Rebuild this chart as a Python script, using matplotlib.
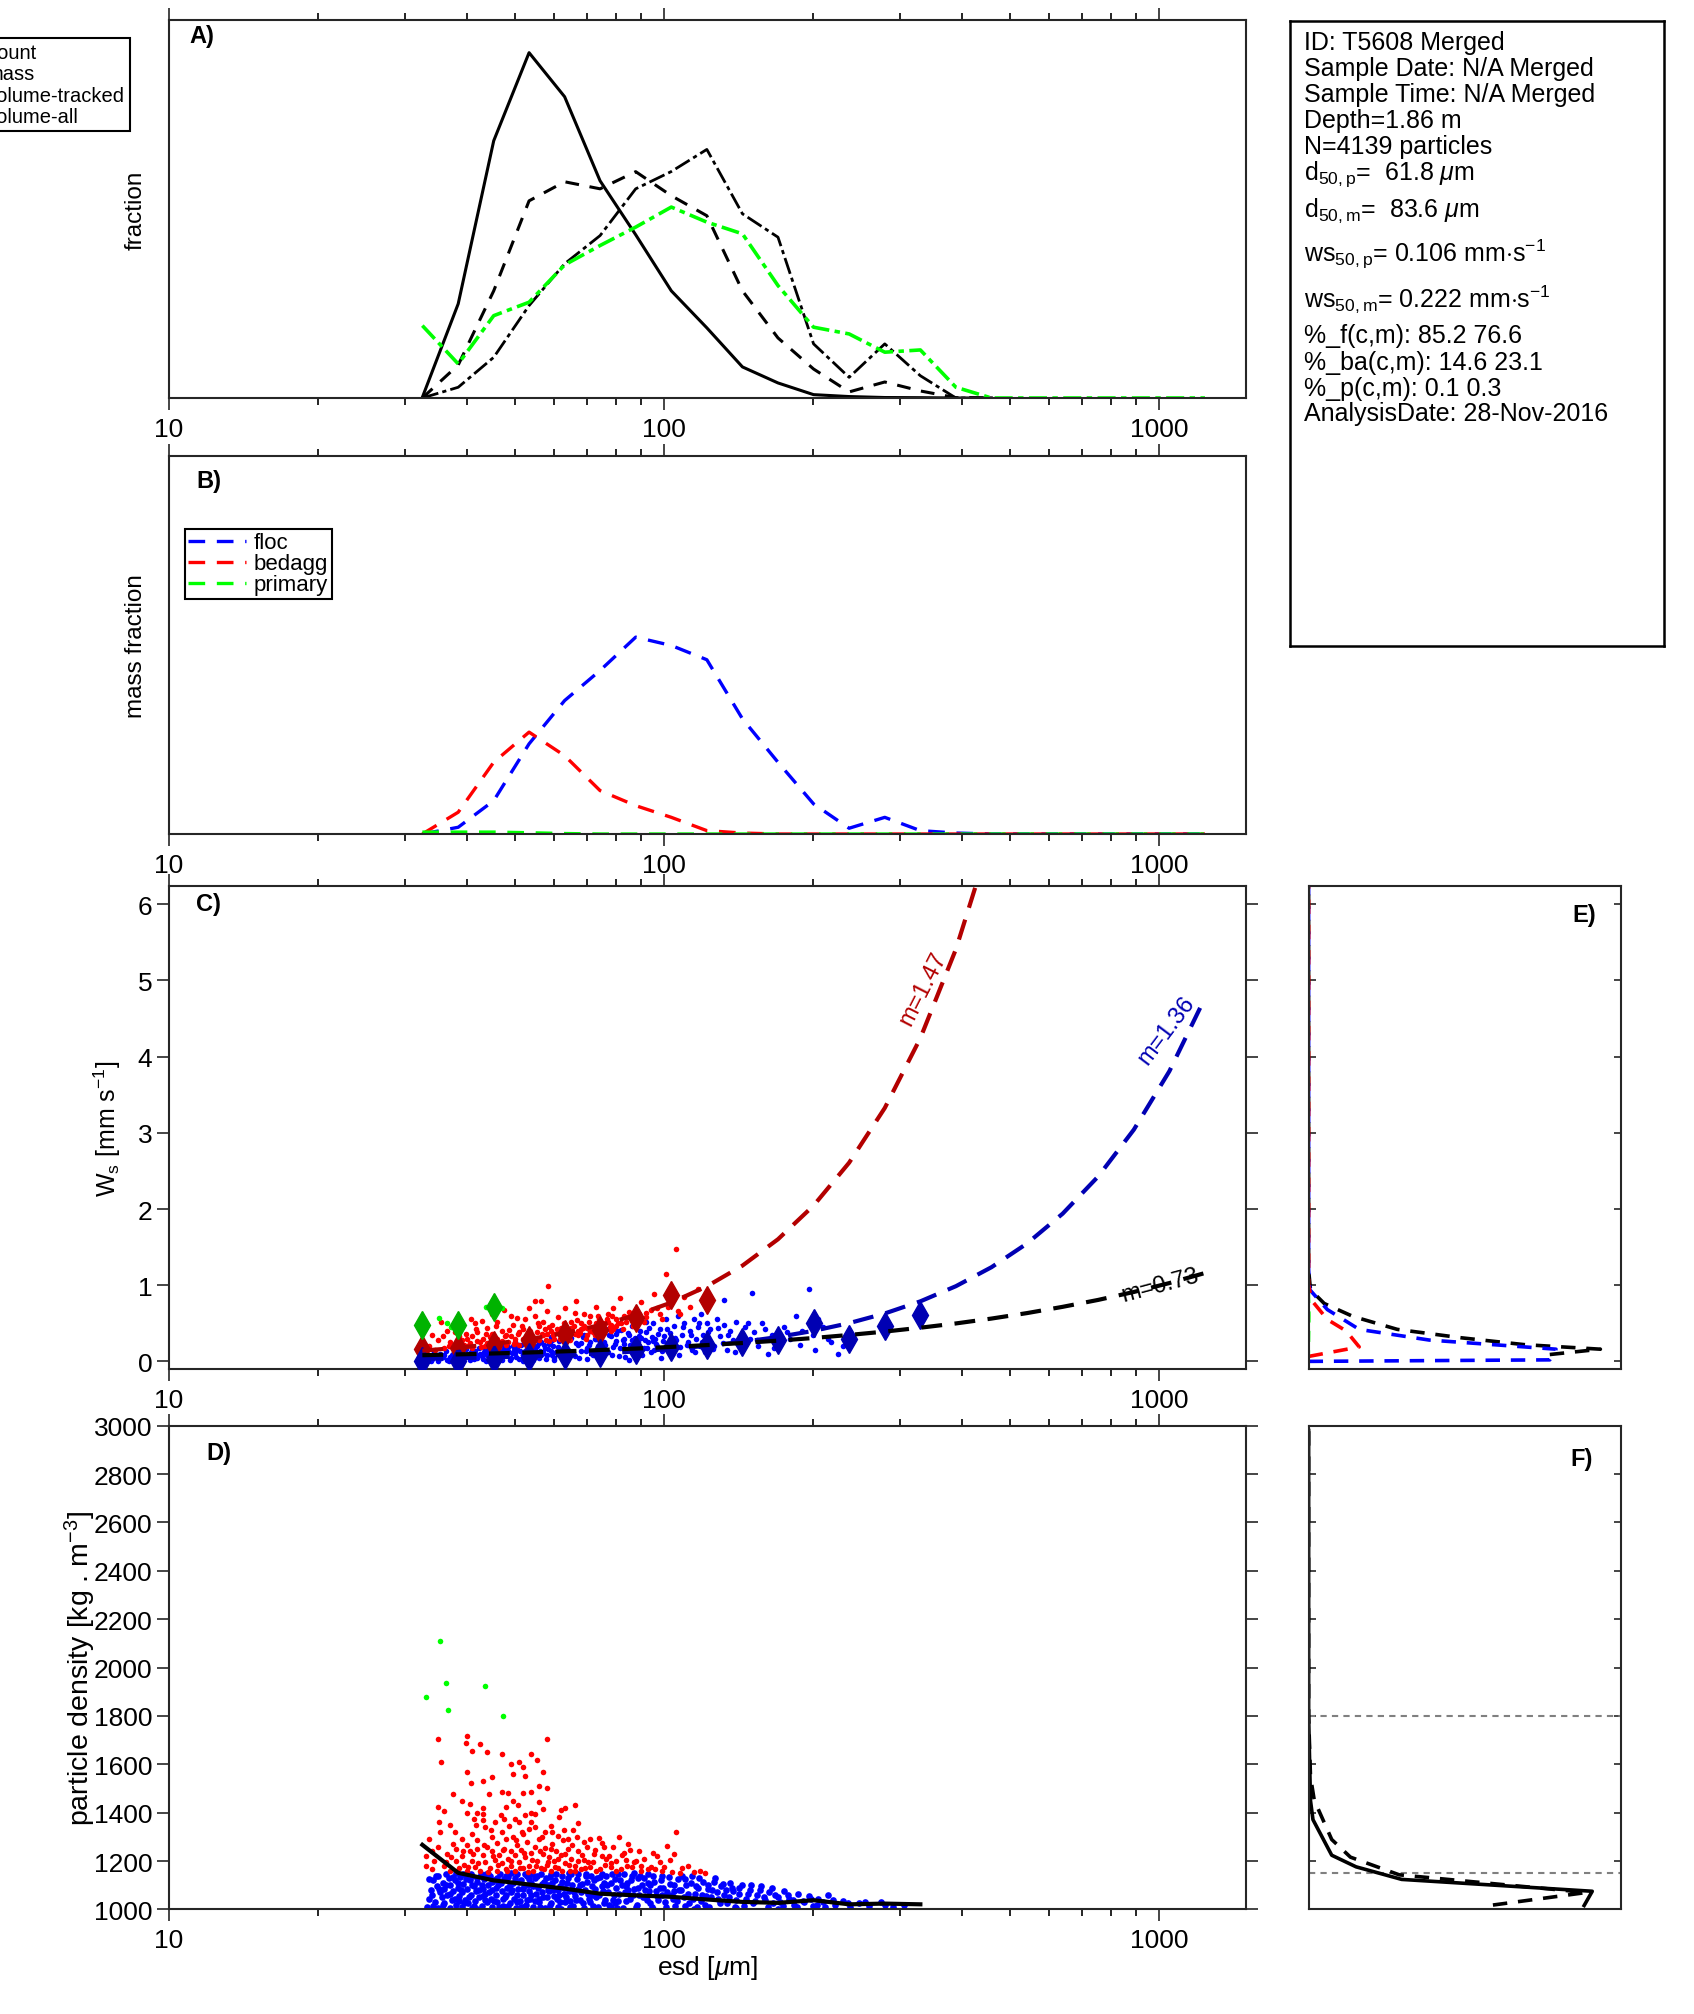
import numpy as np
import matplotlib
matplotlib.use("Agg")
import matplotlib.pyplot as plt
from matplotlib.ticker import LogLocator, NullFormatter

plt.rcParams['font.family'] = ['Liberation Sans', 'DejaVu Sans']
plt.rcParams['mathtext.fontset'] = 'custom'
plt.rcParams['mathtext.rm'] = 'Liberation Sans'
plt.rcParams['mathtext.it'] = 'Liberation Sans:italic'
plt.rcParams['mathtext.bf'] = 'Liberation Sans:bold'

AXC = '#262626'
DRED = (0.7, 0, 0)
DBLUE = (0, 0, 0.7)
DGREEN = (0, 0.7, 0)

# size bin centres [um]
esd_bins = [32.5, 38.4, 45.3, 53.4, 63.0, 74.3, 87.7, 103.5, 122.1, 144.1, 170.0, 200.6,
            236.7, 279.4, 329.7, 389.0, 459.0, 541.7, 639.2, 754.2, 890.0, 1050.2, 1239.2]

# A) size distributions
frac_count = [0.0004, 0.0588, 0.1606, 0.2156, 0.1881, 0.1356, 0.1019, 0.0669, 0.0438, 0.0194,
              0.0094, 0.0021, 0.0009, 0.0003, 0.0002, 0.0, 0.0]
frac_mass = [0.0, 0.0206, 0.0669, 0.1231, 0.135, 0.1306, 0.1413, 0.1263, 0.1138, 0.0669,
             0.0375, 0.0181, 0.0038, 0.01, 0.0044, 0.0002, 0.0]
frac_vol_tracked = [0.0, 0.0067, 0.0254, 0.0577, 0.0838, 0.1014, 0.1306, 0.1414, 0.1552, 0.115,
                    0.1004, 0.0338, 0.0129, 0.0338, 0.0139, 0.0, 0.0]
frac_vol_all = [0.0452, 0.0213, 0.0514, 0.0598, 0.0831, 0.0952, 0.1067, 0.1192, 0.1098, 0.1025,
                0.0702, 0.0442, 0.04, 0.0286, 0.03, 0.0067, 0, 0, 0, 0, 0, 0, 0]

# B) mass fraction by class
mf_floc = [0.0, 0.0042, 0.0208, 0.0563, 0.0833, 0.1021, 0.1229, 0.1177, 0.1088, 0.0719, 0.0448,
           0.0188, 0.0036, 0.0104, 0.0021, 0.0006, 0, 0, 0, 0, 0, 0, 0]
mf_bedagg = [0.0, 0.0136, 0.0448, 0.0636, 0.0489, 0.0271, 0.0177, 0.0104, 0.0021, 0.0006, 0,
             0, 0, 0, 0, 0, 0, 0, 0, 0, 0, 0, 0]
mf_primary = [0.0012, 0.0012, 0.0012, 0.0008, 0.0003, 0, 0, 0, 0, 0, 0, 0, 0, 0, 0, 0, 0, 0,
              0, 0, 0, 0, 0]

# C) settling velocity: bin medians and fitted curves
ws_med_bedagg = [0.16, 0.18, 0.21, 0.28, 0.36, 0.41, 0.57, 0.87, 0.80]
ws_med_floc = [0.0, 0.01, 0.03, 0.06, 0.09, 0.11, 0.15, 0.19, 0.21, 0.25, 0.28, 0.50, 0.29, 0.46, 0.61]
ws_med_primary = [0.48, 0.48, 0.72]
ws_fit_bedagg = [0.141, 0.179, 0.229, 0.292, 0.372, 0.475, 0.606, 0.772, 0.985, 1.257, 1.603,
                 2.045, 2.608, 3.326, 4.243, 5.41, 6.90]
ws_fit_floc = [0.034, 0.042, 0.053, 0.066, 0.083, 0.104, 0.130, 0.163, 0.204, 0.256, 0.320, 0.401,
               0.502, 0.629, 0.788, 0.987, 1.236, 1.548, 1.939, 2.428, 3.041, 3.809, 4.77]
ws_fit_all = [0.081, 0.092, 0.104, 0.117, 0.132, 0.149, 0.168, 0.190, 0.214, 0.241, 0.272, 0.307,
              0.347, 0.391, 0.442, 0.498, 0.562, 0.634, 0.716, 0.807, 0.911, 1.028, 1.16]

# particles (esd [um], ws [mm/s])
ws_bedagg = [(33, 0.12), (33.5, 0.2), (34, 0.35), (34.5, 0.15), (35, 0.28), (35.5, 0.52), (36, 0.18),
             (36.5, 0.4), (37, 0.25), (37.6, 0.46), (38, 0.14), (38.5, 0.33), (39, 0.45), (39.5, 0.22),
             (40, 0.3), (40.8, 0.56), (41, 0.17), (41.5, 0.5), (42, 0.38), (42.5, 0.25), (42.8, 0.53),
             (43.5, 0.2), (44, 0.44), (44.5, 0.32), (45, 0.62), (45.5, 0.28), (46, 0.52), (46.5, 0.19),
             (47, 0.4), (47.5, 0.68), (48, 0.35), (48.5, 0.26), (49, 0.6), (49.5, 0.48), (50, 0.3),
             (50.5, 0.57), (51, 0.21), (52, 0.42), (52.5, 0.55), (53, 0.33), (53.5, 0.7), (54, 0.25),
             (54.8, 0.79), (55, 0.6), (55.5, 0.38), (56.5, 0.79), (56, 0.46), (57, 0.52), (57.5, 0.42),
             (58, 0.66), (58.4, 0.99), (58.5, 0.27), (59.5, 0.48), (60, 0.36), (61, 0.58), (62, 0.44),
             (63, 0.7), (64, 0.32), (65, 0.52), (66.3, 0.79), (66, 0.63), (67, 0.4), (68, 0.5), (69, 0.62),
             (70, 0.35), (71, 0.6), (72, 0.45), (73, 0.72), (74, 0.55), (75, 0.4), (77, 0.62), (78, 0.48),
             (79, 0.7), (80, 0.56), (81.6, 0.83), (83, 0.6), (85, 0.65), (88, 0.5), (90, 0.78), (92, 0.58),
             (95.5, 0.89), (97, 0.7), (99, 0.55), (101, 1.15), (103, 0.8), (105.7, 1.47), (107, 0.66),
             (110, 0.85), (113, 0.72), (117, 0.95), (120, 0.8),
             (38, 0.22), (40, 0.2), (42, 0.27), (44, 0.24), (46, 0.3), (48, 0.22), (50, 0.26), (52, 0.3),
             (54, 0.34), (56, 0.28), (58, 0.36), (60, 0.3), (62, 0.34), (64, 0.4), (66, 0.36), (68, 0.42),
             (70, 0.44), (72, 0.38), (74, 0.46), (76, 0.5), (78, 0.4), (80, 0.46), (84, 0.52), (88, 0.6),
             (39, 0.28), (41, 0.33), (43, 0.3), (45, 0.36), (47, 0.27), (49, 0.33), (51, 0.38), (53, 0.27),
             (55, 0.3), (57, 0.34), (59, 0.4), (61, 0.38), (63, 0.3), (65, 0.44), (67, 0.34), (69, 0.47),
             (71, 0.4), (73, 0.5), (75, 0.45), (77, 0.52), (79, 0.42), (82, 0.5), (86, 0.56), (92, 0.64),
             (35.8, 0.33), (36.8, 0.2), (37.8, 0.38), (38.8, 0.17), (39.8, 0.36), (40.6, 0.24), (41.7, 0.42),
             (42.7, 0.19), (43.7, 0.36), (44.7, 0.27), (45.7, 0.46), (46.7, 0.24), (47.7, 0.33), (48.7, 0.41),
             (49.7, 0.23), (50.7, 0.36), (51.7, 0.46), (52.7, 0.25), (53.7, 0.4), (54.7, 0.31), (55.7, 0.5),
             (56.7, 0.36), (57.7, 0.28), (58.7, 0.45), (59.7, 0.34), (60.7, 0.42), (61.7, 0.3), (62.7, 0.5),
             (63.7, 0.39), (64.7, 0.28), (65.7, 0.46), (66.7, 0.54), (67.7, 0.37), (68.7, 0.44), (69.7, 0.3),
             (70.7, 0.52), (71.7, 0.42), (72.7, 0.35), (73.7, 0.6), (74.7, 0.48), (75.7, 0.37), (76.7, 0.56),
             (77.7, 0.45), (78.7, 0.6), (80.7, 0.5), (82.7, 0.42), (84.7, 0.58), (86.7, 0.47), (89, 0.62),
             (91, 0.52), (94, 0.68), (98, 0.62), (102, 0.72), (108, 0.62)]
ws_floc = [(33, 0.02), (33.5, 0.05), (34, 0.03), (34.5, 0.07), (35, 0.01), (35.5, 0.04), (36, 0.08),
           (36.5, 0.02), (37, 0.06), (37.5, 0.1), (38, 0.03), (38.5, 0.07), (39, 0.12), (39.5, 0.04),
           (40, 0.09), (40.5, 0.02), (41, 0.06), (41.5, 0.13), (42, 0.05), (42.5, 0.1), (43, 0.03),
           (43.5, 0.15), (44, 0.08), (44.5, 0.11), (45, 0.04), (45.5, 0.16), (46, 0.07), (46.5, 0.12),
           (47, 0.02), (47.5, 0.18), (48, 0.09), (48.5, 0.14), (49, 0.05), (49.5, 0.2), (50, 0.11),
           (50.5, 0.16), (51, 0.03), (51.5, 0.22), (52, 0.08), (52.5, 0.13), (53, 0.18), (53.5, 0.06),
           (54, 0.24), (54.5, 0.1), (55, 0.15), (55.5, 0.2), (56, 0.04), (56.5, 0.26), (57, 0.12),
           (57.5, 0.17), (58, 0.08), (58.5, 0.23), (59, 0.14), (59.5, 0.28), (60, 0.05),
           (61, 0.19), (62, 0.1), (63, 0.25), (64, 0.15), (65, 0.31), (66, 0.07), (67, 0.21), (68, 0.13),
           (69, 0.34), (70, 0.18), (71, 0.26), (72, 0.09), (73, 0.3), (74, 0.16), (75, 0.38), (76, 0.22),
           (77, 0.12), (78, 0.33), (79, 0.19), (80, 0.27), (81, 0.07), (82, 0.41), (83, 0.23), (84, 0.15),
           (85, 0.35), (86, 0.28), (87, 0.1), (88, 0.45), (89, 0.2), (90, 0.31), (91, 0.17), (92, 0.38),
           (93, 0.25), (94, 0.12), (95, 0.5), (96, 0.29), (97, 0.2), (98, 0.42), (99, 0.14), (100, 0.33),
           (101, 0.55), (102, 0.24), (103, 0.37), (104, 0.1), (105, 0.46), (106, 0.28), (107, 0.6),
           (108, 0.19), (109, 0.35), (110, 0.5), (112, 0.25), (113, 0.4), (114, 0.15), (115, 0.55),
           (116, 0.3), (117, 0.45), (118, 0.2), (119, 0.62), (120, 0.35), (121, 0.12), (122, 0.5),
           (123, 0.27), (124, 0.42), (126, 0.2), (128, 0.55), (130, 0.33), (132, 0.8), (132, 0.48),
           (134, 0.15), (136, 0.4), (138, 0.28), (140, 0.52), (143, 0.22), (146, 0.45), (149, 0.3),
           (150.8, 0.9), (152, 0.38), (155, 0.2), (158, 0.5), (162, 0.1), (165, 0.35), (170, 0.25),
           (175, 0.45), (180, 0.3), (185, 0.6), (190, 0.4), (196, 0.95), (196, 0.5), (200, 0.35),
           (205, 0.55), (210, 0.45), (215, 0.3), (225, 0.1), (230, 0.2),
           (38, 0.0), (45, 0.01), (52, 0.0), (60, 0.02), (70, 0.03), (85, 0.02),
           (41, 0.17), (44, 0.2), (47, 0.22), (50, 0.25), (53, 0.27), (56, 0.3), (59, 0.32), (62, 0.35),
           (65, 0.37), (68, 0.24), (71, 0.4), (74, 0.28), (77, 0.42), (80, 0.36), (83, 0.3), (86, 0.47),
           (89, 0.33), (92, 0.52), (95, 0.27),
           (33.3, 0.09), (33.8, 0.0), (34.3, 0.12), (34.8, 0.04), (35.3, 0.1), (35.8, 0.06), (36.3, 0.13),
           (36.8, 0.01), (37.3, 0.09), (37.8, 0.15), (38.3, 0.05), (38.8, 0.11), (39.3, 0.0), (39.8, 0.16),
           (40.3, 0.06), (40.8, 0.12), (41.3, 0.03), (41.8, 0.09), (42.3, 0.17), (42.8, 0.07), (43.3, 0.12),
           (43.8, 0.01), (44.3, 0.14), (44.8, 0.06), (45.3, 0.19), (45.8, 0.1), (46.3, 0.03), (46.8, 0.16),
           (47.3, 0.08), (47.8, 0.13), (48.3, 0.19), (48.8, 0.02), (49.3, 0.11), (49.8, 0.15), (50.3, 0.06),
           (50.8, 0.21), (51.3, 0.13), (51.8, 0.09), (52.3, 0.04), (52.8, 0.2), (53.3, 0.11), (53.8, 0.15),
           (54.3, 0.02), (54.8, 0.19), (55.3, 0.08), (55.8, 0.24), (56.3, 0.14), (56.8, 0.1), (57.3, 0.21),
           (57.8, 0.03), (58.3, 0.16), (58.8, 0.26), (59.3, 0.09), (59.8, 0.2), (60.5, 0.12), (61.5, 0.27),
           (62.5, 0.06), (63.5, 0.18), (64.5, 0.3), (65.5, 0.11), (66.5, 0.24), (67.5, 0.04), (68.5, 0.32),
           (69.5, 0.14), (70.5, 0.22), (71.5, 0.1), (72.5, 0.29), (73.5, 0.2), (74.5, 0.05), (75.5, 0.26),
           (76.5, 0.15), (77.5, 0.34), (78.5, 0.09), (79.5, 0.23), (80.5, 0.4), (81.5, 0.17), (82.5, 0.28),
           (83.5, 0.06), (84.5, 0.37), (85.5, 0.21), (86.5, 0.13), (87.5, 0.31), (88.5, 0.25), (89.5, 0.4),
           (90.5, 0.08), (91.5, 0.28), (92.5, 0.18), (93.5, 0.44), (94.5, 0.32), (95.5, 0.15), (96.5, 0.23),
           (97.5, 0.36), (98.5, 0.05), (99.5, 0.27), (101.5, 0.42), (103.5, 0.18), (105.5, 0.31),
           (107.5, 0.09), (109.5, 0.45), (111.5, 0.21), (113.5, 0.34), (115.5, 0.12), (117.5, 0.5),
           (119.5, 0.26), (122.5, 0.38), (125.5, 0.16), (128.5, 0.44), (131.5, 0.24), (135, 0.35),
           (139, 0.12), (144, 0.33), (148, 0.5), (154, 0.28), (160, 0.42), (167, 0.18), (177, 0.38),
           (188, 0.22), (202, 0.15), (218, 0.25)]
ws_primary = [(32.7, 0.47), (35.2, 0.57), (36.4, 0.51), (37.2, 0.45), (43.8, 0.72), (47, 0.7)]

# D) particle density
rho_med_all = [1267, 1151, 1120, 1103, 1086, 1065, 1058, 1052, 1041, 1031, 1027, 1038, 1021, 1024, 1021]
rho_bedagg = [(33, 1220), (34, 1240), (35, 1257), (33.5, 1290), (34.3, 1200), (33, 1180), (34, 1165),
              (35, 1704), (35.5, 1608), (35, 1422), (35.2, 1361), (35.3, 1319), (36, 1405), (37, 1349),
              (37.4, 1477), (39, 1447), (40, 1716), (39.8, 1690), (40, 1567), (40.5, 1436), (40, 1398),
              (40.8, 1521), (41, 1653), (41.3, 1374), (42, 1398), (42.5, 1682), (43, 1529), (43, 1418),
              (43, 1393), (43, 1371), (44, 1650), (44.3, 1476), (45, 1546), (45.5, 1363), (47, 1641),
              (47, 1484), (47.5, 1374), (48, 1422), (48.5, 1480), (49, 1600), (49.5, 1558), (49.5, 1450),
              (50, 1374), (50.8, 1433), (51, 1608), (51, 1363), (52, 1587), (52, 1480), (52.5, 1551),
              (52.5, 1392), (53.5, 1332), (54, 1641), (54, 1484), (54, 1398), (55, 1396), (55, 1339),
              (55.5, 1616), (56, 1510), (56, 1444), (57, 1567), (57, 1415), (57.5, 1319), (58, 1704),
              (58, 1500), (59.5, 1319), (61, 1305), (61.5, 1381), (62, 1412), (63, 1418), (64, 1291),
              (65.5, 1328), (66, 1432), (67, 1357), (69, 1280), (72.5, 1246), (74, 1294), (75, 1219),
              (75.5, 1257), (77.5, 1222), (81, 1298), (83, 1232), (84, 1204), (85.5, 1246), (88, 1201),
              (90, 1181), (93, 1167), (95, 1232), (100, 1177), (101.5, 1263), (104, 1155), (106, 1321),
              (108, 1152), (115, 1156), (121, 1152),
              (36, 1180), (36.5, 1230), (37, 1160), (37.5, 1270), (38, 1200), (38, 1250), (38.5, 1170),
              (39, 1290), (39, 1220), (39.5, 1185), (40, 1160), (40, 1265), (40.5, 1240), (41, 1200),
              (41, 1310), (41.5, 1175), (42, 1250), (42, 1285), (42.5, 1160), (43, 1225), (43.5, 1195),
              (43.5, 1340), (44, 1260), (44.5, 1170), (45, 1240), (45, 1300), (45.5, 1205), (46, 1160),
              (46, 1275), (46.5, 1225), (47, 1190), (47, 1320), (47.5, 1250), (48, 1165), (48, 1290),
              (48.5, 1210), (49, 1240), (49, 1180), (49.5, 1300), (50, 1160), (50, 1225), (50.5, 1265),
              (51, 1195), (51.5, 1245), (52, 1170), (52, 1310), (52.5, 1215), (53, 1280), (53.5, 1180),
              (54, 1235), (54.5, 1160), (55, 1260), (55.5, 1200), (56, 1290), (56.5, 1170), (57, 1230),
              (57.5, 1255), (58, 1185), (58.5, 1215), (59, 1160), (59.5, 1270), (60, 1200), (60.5, 1240),
              (61, 1170), (62, 1225), (62.5, 1285), (63, 1190), (64, 1250), (64.5, 1160), (65, 1210),
              (66, 1180), (67, 1240), (68, 1165), (69, 1205), (70, 1260), (71, 1175), (72, 1195),
              (73, 1160), (76, 1185), (78, 1175), (80, 1200), (82, 1165), (86, 1175), (90, 1160),
              (96, 1165), (98, 1195), (112, 1180),
              (36.2, 1195), (37.2, 1215), (38.2, 1160), (39.2, 1240), (40.2, 1175), (41.2, 1230), (42.2, 1190),
              (43.2, 1265), (44.2, 1155), (45.2, 1220), (46.2, 1185), (47.2, 1245), (48.2, 1160), (49.2, 1200),
              (50.2, 1285), (51.2, 1170), (52.2, 1235), (53.2, 1155), (54.2, 1205), (55.2, 1180), (56.2, 1240),
              (57.2, 1165), (58.2, 1195), (59.2, 1250), (60.2, 1175), (61.2, 1210), (62.2, 1160), (63.2, 1230),
              (64.2, 1185), (65.2, 1265), (66.2, 1160), (67.2, 1200), (68.2, 1225), (69.2, 1170), (70.2, 1195),
              (72.2, 1230), (74.2, 1165), (76.2, 1210), (78.2, 1190), (80.2, 1160), (82.2, 1225), (84.2, 1180),
              (87.2, 1195), (91, 1210), (94, 1175), (99, 1160), (103, 1205), (109, 1170), (118, 1160),
              (37.8, 1320), (41.8, 1350), (44.8, 1330), (46.8, 1390), (48.7, 1345), (51.7, 1320), (53.8, 1360),
              (56.7, 1300), (59, 1345), (62.8, 1330), (66.8, 1300), (70.8, 1290), (74.8, 1275), (79, 1260),
              (84.8, 1270), (89, 1240), (97, 1220), (105, 1230)]
rho_floc = [(33.2, 1010), (33.5, 1045), (33.8, 1080), (34, 1060), (34.2, 1120), (34.5, 1030), (34.8, 1095),
            (35, 1005), (35, 1140), (35.3, 1070), (35.6, 1050), (35.8, 1110), (36, 1025), (36, 1085),
            (36.2, 1145), (36.5, 1060), (36.8, 1130), (37, 1005), (37, 1100), (37.3, 1040),
            (37.5, 1075), (37.8, 1120), (38, 1020), (38, 1150), (38.3, 1090), (38.5, 1055), (38.8, 1135),
            (39, 1010), (39, 1070), (39.3, 1105), (39.6, 1040), (39.8, 1145), (40, 1085), (40.2, 1025),
            (40.5, 1120), (40.7, 1060), (41, 1005), (41, 1140), (41.3, 1095), (41.6, 1035), (41.8, 1075),
            (42, 1115), (42.3, 1050), (42.6, 1145), (42.8, 1015), (43, 1085), (43.3, 1125), (43.6, 1065),
            (43.9, 1030), (44.2, 1100), (44.5, 1140), (44.7, 1045), (45, 1010), (45, 1080),
            (45.4, 1120), (45.7, 1060), (46, 1030), (46.3, 1100), (46.6, 1145), (47, 1075), (47.2, 1015),
            (47.5, 1125), (47.8, 1050), (48.2, 1090), (48.5, 1135), (48.8, 1025), (49.1, 1070),
            (49.5, 1110), (49.8, 1045), (50.2, 1005), (50.5, 1145), (50.8, 1085), (51.2, 1035),
            (51.5, 1120), (51.9, 1060), (52.2, 1095), (52.6, 1020), (53, 1140), (53.3, 1075), (53.7, 1045),
            (54, 1110), (54.4, 1010), (54.8, 1130), (55.2, 1065), (55.6, 1090), (56, 1030), (56.4, 1145),
            (56.8, 1070), (57.2, 1115), (57.6, 1005), (58, 1050), (58.4, 1100), (58.8, 1135), (59.2, 1025),
            (59.7, 1080), (60.2, 1120), (60.7, 1045), (61.2, 1010), (61.7, 1095), (62.2, 1140),
            (62.7, 1065), (63.2, 1030), (63.8, 1110), (64.3, 1075), (64.9, 1145), (65.5, 1015), (66, 1055),
            (66.6, 1125), (67.2, 1085), (67.8, 1040), (68.4, 1105), (69, 1005), (69.6, 1140), (70.3, 1065),
            (71, 1030), (71.6, 1095), (72.3, 1120), (73, 1050), (73.7, 1010), (74.4, 1135), (75.2, 1075),
            (76, 1040), (76.8, 1100), (77.6, 1020), (78.4, 1145), (79.2, 1060), (80, 1090), (80.8, 1035),
            (81.7, 1120), (82.6, 1005), (83.5, 1070), (84.4, 1110), (85.3, 1045), (86.3, 1140),
            (87.2, 1085), (88.2, 1020), (89.2, 1060), (90.2, 1100),
            (91.2, 1130), (92.3, 1040), (93.4, 1075), (94.5, 1010), (95.6, 1115), (96.8, 1055), (98, 1090),
            (99.2, 1140), (100.4, 1030), (101.6, 1070), (102.9, 1105), (104.2, 1045), (105.5, 1015),
            (106.8, 1125), (108.2, 1080), (109.6, 1050), (111, 1100), (112.5, 1025), (114, 1140),
            (115.5, 1065), (117, 1090), (118.6, 1035), (120.2, 1115), (121.8, 1055), (123.5, 1010),
            (125.2, 1080), (127, 1130), (128.8, 1045), (130.6, 1095),
            (132, 1060), (134, 1025), (136, 1110), (138, 1075), (140, 1040), (142, 1090), (145, 1015),
            (148, 1065), (150, 1100), (153, 1035), (156, 1080), (159, 1050), (162, 1010), (165, 1090),
            (168, 1060), (172, 1030), (175, 1075), (179, 1045), (183, 1020), (187, 1065), (191, 1035),
            (196, 1055), (200, 1015), (205, 1045), (210, 1030), (215, 1060), (222, 1020), (230, 1035),
            (238, 1010), (248, 1025), (260, 1015), (275, 1030), (290, 1010), (305, 1020),
            (38.6, 1035), (40.9, 1100), (43.1, 1055), (45.8, 1090), (48, 1060), (50.4, 1030), (53.1, 1100),
            (55.9, 1045), (58.6, 1075), (61.4, 1060), (64.7, 1035), (68, 1070), (71.9, 1060), (75.7, 1110),
            (79.8, 1025), (84, 1095), (88.7, 1130), (93.8, 1100), (99, 1060), (104.9, 1075), (110.5, 1125),
            (116.5, 1010), (122.6, 1085),
            (42, 1003), (52, 1008), (62, 1003), (78, 1008), (95, 1002), (115, 1003), (140, 1005), (170, 1003),
            (33.6, 1125), (34.1, 1015), (34.6, 1140), (35.1, 1085), (35.7, 1020), (36.3, 1100), (36.9, 1065),
            (37.4, 1135), (37.9, 1045), (38.4, 1110), (38.9, 1080), (39.4, 1025), (39.9, 1125), (40.4, 1050),
            (40.8, 1145), (41.4, 1015), (41.9, 1130), (42.4, 1080), (42.9, 1100), (43.4, 1040), (43.8, 1145),
            (44.4, 1070), (44.9, 1115), (45.3, 1035), (45.9, 1130), (46.4, 1010), (46.9, 1110), (47.4, 1045),
            (47.9, 1140), (48.4, 1015), (48.9, 1100), (49.4, 1080), (49.9, 1130), (50.4, 1060), (50.9, 1115),
            (51.4, 1010), (51.8, 1085), (52.4, 1145), (52.9, 1040), (53.4, 1125), (53.9, 1060), (54.5, 1095),
            (55, 1035), (55.5, 1140), (56.1, 1010), (56.6, 1105), (57.1, 1050), (57.7, 1130), (58.2, 1080),
            (58.8, 1020), (59.4, 1110), (59.9, 1055), (60.5, 1145), (61, 1080), (61.6, 1030), (62.1, 1115),
            (62.8, 1090), (63.4, 1050), (64, 1130), (64.6, 1010), (65.2, 1100), (65.9, 1070), (66.5, 1040),
            (67.1, 1145), (67.8, 1100), (68.5, 1025), (69.2, 1080), (69.9, 1115), (70.6, 1045), (71.3, 1140),
            (72, 1015), (72.7, 1085), (73.4, 1130), (74.1, 1060), (74.9, 1095), (75.6, 1025), (76.4, 1140),
            (77.2, 1070), (78, 1110), (78.8, 1040), (79.6, 1125), (80.4, 1005), (81.3, 1065), (82.1, 1100),
            (83, 1145), (83.9, 1035), (84.8, 1080), (85.7, 1120), (86.7, 1060), (87.7, 1010), (88.6, 1090),
            (89.6, 1140), (90.7, 1050), (91.7, 1080), (92.8, 1110), (93.9, 1025), (95, 1140), (96.2, 1075),
            (97.4, 1040), (98.6, 1120), (99.8, 1090), (101, 1010), (102.3, 1135), (103.6, 1060), (104.9, 1100),
            (106.2, 1035), (107.5, 1080), (108.9, 1140), (110.3, 1015), (111.8, 1065), (113.2, 1110),
            (114.7, 1045), (116.2, 1095), (117.8, 1130), (119.4, 1060), (121, 1020), (122.7, 1100),
            (124.4, 1050), (126.1, 1115), (127.9, 1070), (129.7, 1025), (131.5, 1105), (133.5, 1080),
            (135.5, 1050), (137.5, 1090), (139.5, 1010), (141.8, 1065), (144, 1100), (146.5, 1045),
            (149, 1080), (151.5, 1025), (154, 1060), (157, 1095), (160, 1040), (163, 1070), (166, 1025),
            (170, 1050), (174, 1015), (178, 1060), (182, 1040), (186, 1010), (192, 1030), (198, 1045),
            (204, 1020), (212, 1010), (220, 1040), (235, 1025), (255, 1030), (280, 1020),
            (39.2, 1148), (44.1, 1148), (49.2, 1149), (54.2, 1147), (59, 1148), (64.3, 1149), (69.5, 1148),
            (75, 1147), (80.9, 1148), (87, 1149), (93, 1148)]
rho_primary = [(35.3, 2110), (33.0, 1880), (36.2, 1935), (43.5, 1925), (36.6, 1825), (47.3, 1800)]

# E) settling velocity distributions (fraction, ws)
e_all_frac = [0.386, 0.467, 0.345, 0.244, 0.142, 0.071, 0.025, 0.003, 0.0, 0.0]
e_all_ws = [0.09, 0.16, 0.22, 0.31, 0.42, 0.59, 0.76, 0.94, 1.2, 6.24]
e_floc_frac = [0.0, 0.386, 0.396, 0.295, 0.193, 0.081, 0.03, 0.002, 0.0, 0.0]
e_floc_ws = [0.0, 0.02, 0.16, 0.22, 0.28, 0.42, 0.68, 0.94, 1.2, 6.24]
e_bedagg_frac = [0.0, 0.081, 0.06, 0.03, 0.005, 0.0, 0.0]
e_bedagg_ws = [0.065, 0.19, 0.4, 0.55, 0.8, 1.0, 6.24]
e_primary_frac = [0.0, 0.001, 0.0, 0.0]
e_primary_ws = [0.0, 0.6, 1.0, 6.24]

# F) density distributions (fraction, density)
f_count_frac = [0.441, 0.454, 0.149, 0.076, 0.037, 0.007, 0.003, 0.0, 0.0]
f_count_rho = [1016, 1075, 1124, 1176, 1224, 1371, 1450, 1800, 2980]
f_mass_frac = [0.295, 0.445, 0.145, 0.067, 0.037, 0.009, 0.003, 0.0, 0.0]
f_mass_rho = [1018, 1070, 1143, 1216, 1289, 1452, 1550, 1800, 2980]
rho_limits = [1800, 1150]

info_lines = [
    "ID: T5608 Merged",
    "Sample Date: N/A Merged",
    "Sample Time: N/A Merged",
    "Depth=1.86 m",
    "N=4139 particles",
    r"d$_{\mathrm{50,p}}$=  61.8 $\mu$m",
    r"d$_{\mathrm{50,m}}$=  83.6 $\mu$m",
    r"ws$_{\mathrm{50,p}}$= 0.106 mm$\cdot$s$^{\mathrm{-1}}$",
    r"ws$_{\mathrm{50,m}}$= 0.222 mm$\cdot$s$^{\mathrm{-1}}$",
    "%_f(c,m): 85.2 76.6",
    "%_ba(c,m): 14.6 23.1",
    "%_p(c,m): 0.1 0.3",
    "AnalysisDate: 28-Nov-2016",
]
info_baselines = [50, 76, 102, 128, 154, 180, 217, 262, 307, 343, 370, 396, 421]


def frame(ax):
    for s in ax.spines.values():
        s.set_linewidth(1.5)
        s.set_color(AXC)
    ax.tick_params(colors=AXC, labelcolor='black')


def log_x(ax):
    ax.set_xscale('log')
    ax.set_xlim(10, 1500)
    ax.set_xticks([10, 100, 1000], labels=['10', '100', '1000'])
    ax.xaxis.set_minor_locator(LogLocator(base=10, subs=np.arange(2, 10), numticks=12))
    ax.xaxis.set_minor_formatter(NullFormatter())
    ax.tick_params(axis='x', which='both', direction='out', top=True, bottom=True)
    ax.tick_params(axis='x', which='major', length=8.5, width=1.2, labelsize=19, pad=5)
    ax.tick_params(axis='x', which='minor', length=5, width=1.2)
    frame(ax)


def dots(ax, pts, color, ms=4.0):
    x, y = zip(*pts)
    ax.plot(x, y, linestyle='none', marker='o', ms=ms, mfc=color, mec='none', zorder=2)


fig = plt.figure(figsize=(16.94, 20.15), dpi=100)
W, H = 1694, 2015
ax_a = fig.add_axes([169 / W, 1 - 399 / H, 1077 / W, 378 / H])
ax_b = fig.add_axes([169 / W, 1 - 835 / H, 1077 / W, 378 / H])
ax_c = fig.add_axes([169 / W, 1 - 1370 / H, 1077 / W, 483 / H])
ax_d = fig.add_axes([169 / W, 1 - 1910.4 / H, 1077 / W, 483.7 / H])
ax_info = fig.add_axes([1290 / W, 1 - 647 / H, 374 / W, 625 / H])
ax_e = fig.add_axes([1308.6 / W, 1 - 1370 / H, 312.4 / W, 483 / H])
ax_f = fig.add_axes([1308.6 / W, 1 - 1910.4 / H, 312.4 / W, 483.7 / H])

# ---- A
n = len(frac_count)
ax_a.plot(esd_bins[:n], frac_count, color='k', lw=2.2, label='count')
ax_a.plot(esd_bins[:n], frac_mass, color='k', lw=2.2, dashes=(4.5, 3.5), label='mass')
ax_a.plot(esd_bins[:n], frac_vol_tracked, color='k', lw=2.0, dashes=(6, 1.5, 1.5, 1.5),
          label='volume-tracked')
ax_a.plot(esd_bins, frac_vol_all, color=(0, 1, 0), lw=2.6, dashes=(5, 1.5, 1.5, 1.5), label='volume-all')
log_x(ax_a)
ax_a.set_ylim(0, 0.236)
ax_a.set_yticks([])
ax_a.set_ylabel('fraction', fontsize=17.5, va='center')
ax_a.yaxis.set_label_coords(-0.031, 0.5)
ax_a.text(0.019, 0.958, 'A)', transform=ax_a.transAxes, fontsize=17, fontweight='bold', va='center')
leg_a = ax_a.legend(loc='upper right', bbox_to_anchor=(130 / W, 1 - 39 / H), bbox_transform=fig.transFigure,
                    fontsize=14.5, frameon=True, fancybox=False, edgecolor='k', framealpha=1,
                    borderpad=0.25, labelspacing=0.12, handlelength=2.2, handletextpad=0.4,
                    borderaxespad=0)
leg_a.get_frame().set_linewidth(1.5)

# ---- B
ax_b.plot(esd_bins, mf_floc, color=(0, 0, 1), lw=2.4, dashes=(5, 3.5), label='floc')
ax_b.plot(esd_bins, mf_bedagg, color=(1, 0, 0), lw=2.4, dashes=(5, 3.5), label='bedagg')
ax_b.plot(esd_bins, mf_primary, color=(0, 1, 0), lw=2.4, dashes=(5, 3.5), label='primary')
log_x(ax_b)
ax_b.set_ylim(0, 0.236)
ax_b.set_yticks([])
ax_b.set_ylabel('mass fraction', fontsize=17.5, va='center')
ax_b.yaxis.set_label_coords(-0.031, 0.5)
ax_b.text(0.025, 0.934, 'B)', transform=ax_b.transAxes, fontsize=17, fontweight='bold', va='center')
leg_b = ax_b.legend(loc='upper left', bbox_to_anchor=(185 / W, 1 - 530 / H), bbox_transform=fig.transFigure,
                    fontsize=16, frameon=True, fancybox=False, edgecolor='k', framealpha=1,
                    borderpad=0.15, labelspacing=0.0, handlelength=2.6, handletextpad=0.35,
                    borderaxespad=0)
leg_b.get_frame().set_linewidth(1.5)

# ---- C
dots(ax_c, ws_floc, (0, 0, 1))
dots(ax_c, ws_bedagg, (1, 0, 0))
dots(ax_c, ws_primary, (0, 1, 0))
ax_c.plot(esd_bins[:len(ws_med_bedagg)], ws_med_bedagg, 'd', color=DRED, ms=14, zorder=3)
ax_c.plot(esd_bins[:len(ws_med_floc)], ws_med_floc, 'd', color=DBLUE, ms=14, zorder=3)
ax_c.plot(esd_bins[:len(ws_med_primary)], ws_med_primary, 'd', color=DGREEN, ms=14, zorder=3)
ax_c.plot(esd_bins[:len(ws_fit_bedagg)], ws_fit_bedagg, color=DRED, lw=3, dashes=(5, 3), zorder=4)
ax_c.plot(esd_bins, ws_fit_floc, color=DBLUE, lw=3, dashes=(5, 3), zorder=4)
ax_c.plot(esd_bins, ws_fit_all, color='k', lw=3, dashes=(5, 3), zorder=4)
ax_c.text(334, 4.9, 'm=1.47', color=DRED, fontsize=17, rotation=63, ha='center', va='center')
ax_c.text(1038, 4.35, 'm=1.36', color=DBLUE, fontsize=17, rotation=53, ha='center', va='center')
ax_c.text(1006, 1.0, 'm=0.73', color='k', fontsize=17, rotation=15, ha='center', va='center', zorder=5)
log_x(ax_c)
ax_c.set_ylim(-0.1, 6.24)
ax_c.set_yticks(range(7))
ax_c.tick_params(axis='y', direction='out', left=True, right=True, length=8.5, width=1.2, labelsize=19)
ax_c.set_ylabel(r'W$_\mathrm{s}$ [mm s$^{\mathrm{-1}}$]', fontsize=18, va='center')
ax_c.yaxis.set_label_coords(-0.057, 0.5)
ax_c.text(0.025, 0.963, 'C)', transform=ax_c.transAxes, fontsize=17, fontweight='bold', va='center')

# ---- D
dots(ax_d, rho_floc, (0, 0, 1), ms=4.8)
dots(ax_d, rho_bedagg, (1, 0, 0))
dots(ax_d, rho_primary, (0, 1, 0))
ax_d.plot(esd_bins[:len(rho_med_all)], rho_med_all, color='k', lw=3, zorder=4)
log_x(ax_d)
ax_d.set_ylim(1000, 3000)
ax_d.set_yticks(range(1000, 3001, 200))
ax_d.tick_params(axis='y', direction='out', left=True, right=True, length=8.5, width=1.2, labelsize=19)
ax_d.set_ylabel(r'particle density [kg . m$^{\mathrm{-3}}$]', fontsize=20.5, va='center')
ax_d.yaxis.set_label_coords(-0.082, 0.5)
ax_d.set_xlabel(r'esd [$\mu$m]', fontsize=19)
ax_d.xaxis.set_label_coords(0.5, -0.09)
ax_d.text(0.035, 0.944, 'D)', transform=ax_d.transAxes, fontsize=17, fontweight='bold', va='center')

# ---- info box
ax_info.set_xticks([])
ax_info.set_yticks([])
for s in ax_info.spines.values():
    s.set_linewidth(1.8)
    s.set_color('k')
for line, yb in zip(info_lines, info_baselines):
    fig.text(1304 / W, 1 - yb / H, line, fontsize=18, va='baseline', ha='left')

# ---- E
ax_e.plot(e_all_frac, e_all_ws, color='k', lw=2.6, dashes=(4, 3))
ax_e.plot(e_floc_frac, e_floc_ws, color=(0, 0, 1), lw=2.6, dashes=(4, 3))
ax_e.plot(e_bedagg_frac, e_bedagg_ws, color=(1, 0, 0), lw=2.6, dashes=(4, 3))
ax_e.plot(e_primary_frac, e_primary_ws, color=(0, 1, 0), lw=2.0, dashes=(4, 3))
ax_e.set_xlim(0, 0.5)
ax_e.set_ylim(-0.1, 6.24)
ax_e.set_xticks([])
ax_e.set_yticks(range(7))
ax_e.tick_params(axis='y', direction='in', left=True, right=True, labelleft=False, length=5, width=1.2)
frame(ax_e)
ax_e.text(0.92, 0.942, 'E)', transform=ax_e.transAxes, fontsize=17, fontweight='bold', va='center', ha='right')

# ---- F
for r in rho_limits:
    ax_f.axhline(r, color='0.5', lw=1.5, dashes=(3, 2.5))
ax_f.plot(f_count_frac, f_count_rho, color='k', lw=2.6)
ax_f.plot(f_mass_frac, f_mass_rho, color='k', lw=2.6, dashes=(4, 3))
ax_f.set_xlim(0, 0.5)
ax_f.set_ylim(1000, 3000)
ax_f.set_xticks([])
ax_f.set_yticks(range(1000, 3001, 200))
ax_f.tick_params(axis='y', direction='in', left=True, right=True, labelleft=False, length=5, width=1.2)
frame(ax_f)
ax_f.text(0.91, 0.932, 'F)', transform=ax_f.transAxes, fontsize=17, fontweight='bold', va='center', ha='right')

fig.savefig('out.png', dpi=100)
